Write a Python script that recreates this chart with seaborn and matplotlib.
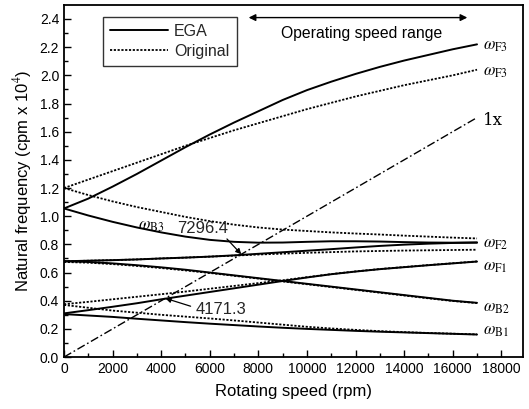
import matplotlib
matplotlib.use("Agg")
import matplotlib.pyplot as plt
import seaborn as sns
import pandas as pd
import numpy as np

# ---------------- data ----------------
rpm = [0, 1000, 2000, 3000, 4000, 5000, 6000, 7000, 8000, 9000,
       10000, 11000, 12000, 13000, 14000, 15000, 16000, 17000]

ega_F3 = [1.055, 1.125, 1.21, 1.30, 1.395, 1.49, 1.58, 1.665, 1.745, 1.825,
          1.895, 1.955, 2.01, 2.06, 2.105, 2.145, 2.185, 2.22]
ega_B3 = [1.055, 1.005, 0.96, 0.92, 0.885, 0.855, 0.832, 0.818, 0.812, 0.813,
          0.818, 0.822, 0.822, 0.82, 0.816, 0.813, 0.812, 0.813]
ega_F2 = [0.68, 0.684, 0.688, 0.693, 0.70, 0.706, 0.713, 0.722, 0.733, 0.744,
          0.755, 0.766, 0.778, 0.789, 0.798, 0.805, 0.81, 0.813]
ega_B2 = [0.68, 0.675, 0.665, 0.652, 0.637, 0.62, 0.60, 0.58, 0.56, 0.54,
          0.52, 0.50, 0.48, 0.46, 0.44, 0.42, 0.40, 0.385]
ega_F1 = [0.31, 0.333, 0.357, 0.382, 0.41, 0.436, 0.462, 0.488, 0.514, 0.54,
          0.565, 0.588, 0.607, 0.624, 0.638, 0.652, 0.665, 0.678]
ega_B1 = [0.305, 0.295, 0.285, 0.272, 0.26, 0.248, 0.237, 0.227, 0.217, 0.208,
          0.20, 0.193, 0.186, 0.18, 0.175, 0.17, 0.165, 0.16]

org_F3 = [1.20, 1.26, 1.32, 1.38, 1.44, 1.50, 1.555, 1.61, 1.66, 1.71,
          1.76, 1.805, 1.85, 1.89, 1.93, 1.965, 2.00, 2.04]
org_B3 = [1.20, 1.15, 1.105, 1.065, 1.03, 0.995, 0.965, 0.94, 0.92, 0.905,
          0.895, 0.885, 0.877, 0.87, 0.862, 0.855, 0.848, 0.842]
org_F2 = [0.68, 0.684, 0.688, 0.693, 0.70, 0.706, 0.713, 0.72, 0.728, 0.734,
          0.74, 0.745, 0.75, 0.753, 0.756, 0.758, 0.76, 0.762]
org_B2 = [0.675, 0.67, 0.66, 0.647, 0.632, 0.615, 0.597, 0.577, 0.557, 0.537,
          0.517, 0.497, 0.477, 0.457, 0.437, 0.417, 0.398, 0.383]
org_F1 = [0.375, 0.392, 0.41, 0.428, 0.446, 0.465, 0.485, 0.505, 0.525, 0.545,
          0.567, 0.589, 0.608, 0.625, 0.639, 0.653, 0.666, 0.679]
org_B1 = [0.37, 0.35, 0.33, 0.315, 0.30, 0.287, 0.274, 0.26, 0.245, 0.23,
          0.215, 0.203, 0.193, 0.184, 0.177, 0.171, 0.166, 0.161]

onex_rpm = [0, 17000]
onex_freq = [0.0, 1.7]

mode_labels = ["F3", "F3", "1x", "F2", "F1", "B2", "B1"]
mode_label_y = [2.215, 2.025, 1.68, 0.805, 0.64, 0.355, 0.185]

crit_speeds = [7296.4, 4171.3]

# ---------------- style ----------------
sns.set_theme(style="ticks")
plt.rcParams["font.family"] = ["Liberation Sans", "DejaVu Sans"]
plt.rcParams["mathtext.fontset"] = "stix"

fig = plt.figure(figsize=(5.29, 4.09), dpi=100)
ax = fig.add_axes([0.121, 0.127, 0.868, 0.861])

dotted = (0, (1.2, 0.9))
ega_sets = [ega_F3, ega_B3, ega_F2, ega_B2, ega_F1, ega_B1]
org_sets = [org_F3, org_B3, org_F2, org_B2, org_F1, org_B1]

for i, ys in enumerate(org_sets):
    df = pd.DataFrame({"rpm": rpm, "freq": ys})
    sns.lineplot(data=df, x="rpm", y="freq", ax=ax, color="black",
                 linewidth=1.3, linestyle=dotted,
                 label="Original" if i == 0 else None, legend=False)
for i, ys in enumerate(ega_sets):
    df = pd.DataFrame({"rpm": rpm, "freq": ys})
    sns.lineplot(data=df, x="rpm", y="freq", ax=ax, color="black",
                 linewidth=1.4, linestyle="-",
                 label="EGA" if i == 0 else None, legend=False)

df1x = pd.DataFrame({"rpm": onex_rpm, "freq": onex_freq})
sns.lineplot(data=df1x, x="rpm", y="freq", ax=ax, color="black",
             linewidth=1.0, linestyle=(0, (6, 2, 1.2, 2)), legend=False)

ax.set_xlim(0, 18900)
ax.set_ylim(0, 2.5)
ax.set_xticks(np.arange(0, 18001, 2000))
ax.set_xticks(np.arange(1000, 18001, 2000), minor=True)
ax.set_yticks(np.arange(0, 2.41, 0.2))
ax.set_yticks(np.arange(0.1, 2.5, 0.2), minor=True)
ax.yaxis.set_major_formatter(matplotlib.ticker.FormatStrFormatter("%.1f"))
ax.tick_params(axis="both", which="major", direction="in", length=5,
               width=1.0, labelsize=10, color="black", labelcolor="black")
ax.tick_params(axis="both", which="minor", direction="in", length=3,
               width=1.0, color="black")
for s in ax.spines.values():
    s.set_linewidth(1.3)
    s.set_color("black")

ax.set_xlabel("Rotating speed (rpm)", fontsize=12, labelpad=6, color="black")
ax.set_ylabel("Natural frequency (cpm x 10$^4$)", fontsize=12, labelpad=4,
              color="black")

# legend
handles, labels = ax.get_legend_handles_labels()
order = [labels.index("EGA"), labels.index("Original")]
leg = ax.legend([handles[k] for k in order], [labels[k] for k in order],
                loc="upper left", bbox_to_anchor=(0.085, 0.966),
                borderaxespad=0.0,
                fontsize=11.5, frameon=True, fancybox=False,
                edgecolor="black", handlelength=3.6, borderpad=0.45,
                labelspacing=0.3, handletextpad=0.4)
leg.get_frame().set_linewidth(1.0)

# mode labels
for lab, yv in zip(mode_labels, mode_label_y):
    if lab == "1x":
        txt = "1x"
    else:
        txt = r"$\omega_{\mathrm{%s}}$" % lab
    ax.text(17250, yv, txt, fontsize=12, family="serif",
            va="center", ha="left", color="black")

ax.text(3050, 0.925, r"$\omega_{\mathrm{B3}}$", fontsize=12, va="center",
        ha="left", color="black")

# critical speed annotations
ax.annotate("%.1f" % crit_speeds[0], xy=(crit_speeds[0], crit_speeds[0] / 1e4),
            xytext=(4650, 0.915), fontsize=12, va="center", ha="left",
            arrowprops=dict(arrowstyle="-|>", color="black", lw=0.9,
                            shrinkA=0, shrinkB=0, mutation_scale=8,
                            relpos=(0.92, 0.0)))
ax.annotate("%.1f" % crit_speeds[1], xy=(crit_speeds[1], crit_speeds[1] / 1e4),
            xytext=(5400, 0.34), fontsize=12, va="center", ha="left",
            arrowprops=dict(arrowstyle="-|>", color="black", lw=0.9,
                            shrinkA=1, shrinkB=0, mutation_scale=8,
                            relpos=(0.0, 0.6)))

# operating speed range
ax.annotate("", xy=(7600, 2.41), xytext=(16600, 2.41),
            arrowprops=dict(arrowstyle="<|-|>", color="black", lw=1.0,
                            mutation_scale=10, shrinkA=0, shrinkB=0))
ax.text(12250, 2.30, "Operating speed range", fontsize=11.3, ha="center",
        va="center", color="black")

fig.savefig("out.png", dpi=100)
